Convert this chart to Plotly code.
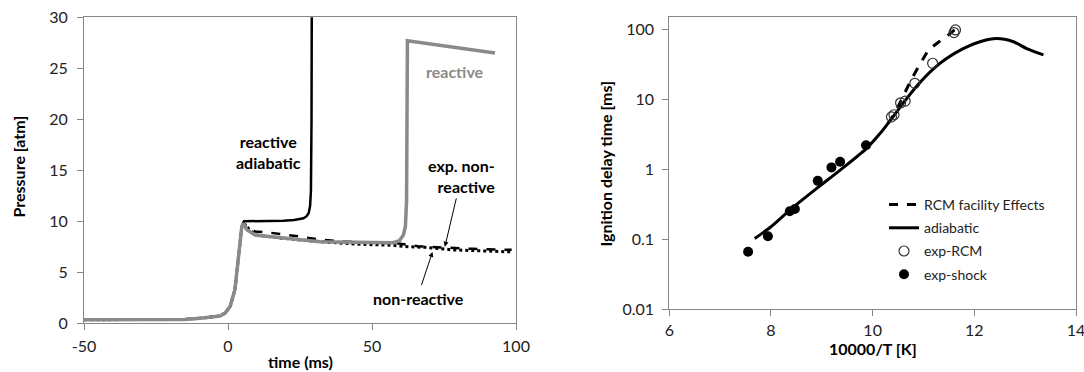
import plotly.graph_objects as go

# ---------------- Left panel: pressure traces ----------------
t_reactive = [-52, -30, -15, -9.7, -5, -2.8, -1, 0.7, 2.4, 3.6, 4.8, 5.3, 6.5, 9.4, 19.2, 28.5, 31.9,
              45.8, 57.4, 59.5, 60.9, 61.6, 62.0, 62.3, 70, 80, 92.7]
p_reactive = [0.35, 0.35, 0.38, 0.5, 0.6, 0.72, 1.0, 1.63, 3.3, 6.5, 9.5, 9.8, 9.2, 8.66, 8.33, 8.1, 8.0,
              7.9, 7.9, 8.1, 8.66, 9.5, 12, 27.7, 27.4, 27.0, 26.5]

t_adiabatic = [5.2, 10, 15, 19.2, 23, 26.2, 27.3, 28.0, 28.5, 28.8, 29.0, 29.2]
p_adiabatic = [10.0, 10.0, 10.03, 10.06, 10.12, 10.3, 10.5, 10.8, 11.5, 13, 20, 45]

t_exp_nonreactive = [-52, -30, -15, -9.7, -5, -2.8, -1, 0.7, 2.4, 3.6, 4.8, 5.3, 6.5, 9.4, 14.6, 25, 32,
                     41, 50, 58.6, 66, 75, 85, 98.5]
p_exp_nonreactive = [0.35, 0.35, 0.38, 0.5, 0.6, 0.72, 1.0, 1.63, 3.3, 6.5, 9.4, 9.7, 9.64, 9.0, 8.88,
                     8.5, 8.2, 8.0, 7.9, 7.85, 7.55, 7.4, 7.3, 7.2]

t_nonreactive = [-52, -30, -15, -9.7, -5, -2.8, -1, 0.7, 2.4, 3.6, 4.8, 5.3, 9.4, 19.2, 31.9, 45.8, 57,
                 63.2, 68.4, 78, 88, 98.5]
p_nonreactive = [0.35, 0.35, 0.38, 0.5, 0.6, 0.72, 1.0, 1.63, 3.3, 6.5, 9.5, 9.8, 8.66, 8.33, 8.0, 7.75,
                 7.65, 7.5, 7.45, 7.2, 7.1, 7.0]

# ---------------- Right panel: ignition delay ----------------
x_rcm_effects = [10.3, 10.45, 10.6, 10.75, 10.9, 11.0, 11.1, 11.3, 11.5, 11.65]
y_rcm_effects = [4.5, 6.6, 11, 18.5, 29, 39, 51, 66, 84, 104]

x_adiabatic = [7.68, 8.0, 8.37, 8.9, 9.36, 9.87, 10.14, 10.4, 10.6, 10.87, 11.19, 11.46, 11.78,
               12.11, 12.44, 12.77, 13.03, 13.36]
y_adiabatic = [0.102, 0.15, 0.26, 0.53, 0.97, 1.95, 3.2, 5.6, 8.8, 15.5, 27, 38.5, 53,
               66.5, 74, 66.5, 53, 43]

x_exp_rcm = [10.37, 10.42, 10.55, 10.64, 10.83, 11.18, 11.6, 11.63]
y_exp_rcm = [5.6, 6.0, 8.9, 9.4, 16.9, 32.7, 90, 98]

x_exp_shock = [7.55, 7.94, 8.37, 8.47, 8.92, 9.19, 9.36, 9.87]
y_exp_shock = [0.066, 0.11, 0.25, 0.27, 0.68, 1.06, 1.28, 2.2]

left_xticks = [-50, 0, 50, 100]
left_xticklabels = ["-50", "0", "50", "100"]
left_yticks = [0, 5, 10, 15, 20, 25, 30]
right_xticks = [6, 8, 10, 12, 14]
right_yticks = [0.01, 0.1, 1, 10, 100]
right_yticklabels = ["0.01", "0.1", "1", "10", "100"]

FONT = "Lato"
GRAY = "#8a8a8a"
AX = "#868686"
W, H = 1084, 372

fig = go.Figure()

# left traces
fig.add_trace(go.Scatter(x=t_nonreactive, y=p_nonreactive, mode="lines", xaxis="x", yaxis="y",
                         line=dict(color="black", width=3, dash="dot"), showlegend=False))
fig.add_trace(go.Scatter(x=t_exp_nonreactive, y=p_exp_nonreactive, mode="lines", xaxis="x", yaxis="y",
                         line=dict(color="black", width=2.5, dash="dash"), showlegend=False))
fig.add_trace(go.Scatter(x=t_reactive, y=p_reactive, mode="lines", xaxis="x", yaxis="y",
                         line=dict(color=GRAY, width=3.5), showlegend=False))
fig.add_trace(go.Scatter(x=t_adiabatic, y=p_adiabatic, mode="lines", xaxis="x", yaxis="y",
                         line=dict(color="black", width=2.5), showlegend=False))

# right traces
fig.add_trace(go.Scatter(x=x_rcm_effects, y=y_rcm_effects, mode="lines", xaxis="x2", yaxis="y2",
                         name="RCM facility Effects", legendgroup="a",
                         line=dict(color="black", width=3, dash="dash")))
fig.add_trace(go.Scatter(x=x_adiabatic, y=y_adiabatic, mode="lines", xaxis="x2", yaxis="y2",
                         name="adiabatic", legendgroup="b",
                         line=dict(color="black", width=3, shape="spline", smoothing=0.8)))
fig.add_trace(go.Scatter(x=x_exp_rcm, y=y_exp_rcm, mode="markers", xaxis="x2", yaxis="y2",
                         name="exp-RCM", legendgroup="c",
                         marker=dict(symbol="circle-open", size=10, color="#333333",
                                     line=dict(width=1.2, color="#333333"))))
fig.add_trace(go.Scatter(x=x_exp_shock, y=y_exp_shock, mode="markers", xaxis="x2", yaxis="y2",
                         name="exp-shock", legendgroup="d",
                         marker=dict(symbol="circle", size=10, color="black")))

axis_common = dict(showline=True, mirror=True, linecolor=AX, linewidth=1, ticks="outside",
                   ticklen=6, tickcolor=AX, showgrid=False, zeroline=False, automargin=False,
                   ticklabeloverflow="allow",
                   tickfont=dict(family=FONT, size=16, color="#222222"))

fig.update_layout(
    width=W, height=H,
    margin=dict(l=0, r=0, t=0, b=0, pad=0, autoexpand=False),
    paper_bgcolor="white", plot_bgcolor="white",
    font=dict(family=FONT, color="black"),
    xaxis=dict(domain=[84 / W, 516 / W], range=[-50, 100], tickvals=left_xticks,
               ticktext=left_xticklabels, anchor="y", ticklabelstandoff=2, **axis_common),
    yaxis=dict(domain=[1 - 323.3 / H, 1 - 17.3 / H], range=[0, 30], tickvals=left_yticks, anchor="x",
               ticklabelstandoff=6, **axis_common),
    xaxis2=dict(domain=[669.3 / W, 1076 / W], range=[6, 14], tickvals=right_xticks, anchor="y2",
                ticklabelstandoff=1, **axis_common),
    yaxis2=dict(domain=[1 - 309 / H, 1 - 17.3 / H], type="log", range=[-2, 2.172],
                tickvals=right_yticks, ticktext=right_yticklabels, anchor="x2",
                ticklabelstandoff=5, **axis_common),
    legend=dict(x=884 / W, y=1 - 189 / H, xanchor="left", yanchor="top",
                bgcolor="rgba(0,0,0,0)", font=dict(family=FONT, size=14, color="#222222"),
                tracegroupgap=2, itemwidth=30),
)

bold = dict(family=FONT, size=16, color="black")
ann = []
# axis titles
ann.append(dict(text="<b>time (ms)</b>", x=300 / W, y=1 - 361.5 / H, xref="paper", yref="paper",
                showarrow=False, font=bold, xanchor="center", yanchor="middle"))
ann.append(dict(text="<b>Pressure [atm]</b>", x=17.5 / W, y=1 - 167 / H, xref="paper", yref="paper",
                showarrow=False, font=bold, textangle=-90, xanchor="center", yanchor="middle"))
ann.append(dict(text="<b>10000/T [K]</b>", x=873 / W, y=1 - 348 / H, xref="paper", yref="paper",
                showarrow=False, font=bold, xanchor="center", yanchor="middle"))
ann.append(dict(text="<b>Ignition delay time [ms]</b>", x=605 / W, y=1 - 163.5 / H, xref="paper",
                yref="paper", showarrow=False, font=bold, textangle=-90, xanchor="center",
                yanchor="middle"))
# in-plot labels
ann.append(dict(text="<b>reactive<br>adiabatic</b>", x=14.2, y=16.75, xref="x", yref="y",
                showarrow=False, font=bold, align="center"))
ann.append(dict(text="<b>reactive</b>", x=78.8, y=24.7, xref="x", yref="y", showarrow=False,
                font=dict(family=FONT, size=16, color=GRAY)))
ann.append(dict(text="<b>exp. non-<br>reactive</b>", x=93.4, y=14.4, xref="x", yref="y",
                showarrow=False, font=bold, align="right", xanchor="right"))
ann.append(dict(text="<b>non-reactive</b>", x=66.0, y=2.45, xref="x", yref="y", showarrow=False,
                font=bold))
# arrows
ann.append(dict(x=75.3, y=7.5, ax=79.4, ay=12.4, xref="x", yref="y", axref="x", ayref="y",
                showarrow=True, arrowhead=2, arrowsize=1, arrowwidth=1, arrowcolor="black", text=""))
ann.append(dict(x=71.0, y=7.0, ax=67.0, ay=3.6, xref="x", yref="y", axref="x", ayref="y",
                showarrow=True, arrowhead=2, arrowsize=1, arrowwidth=1, arrowcolor="black", text=""))
fig.update_layout(annotations=ann)

fig.write_html("out.html")
